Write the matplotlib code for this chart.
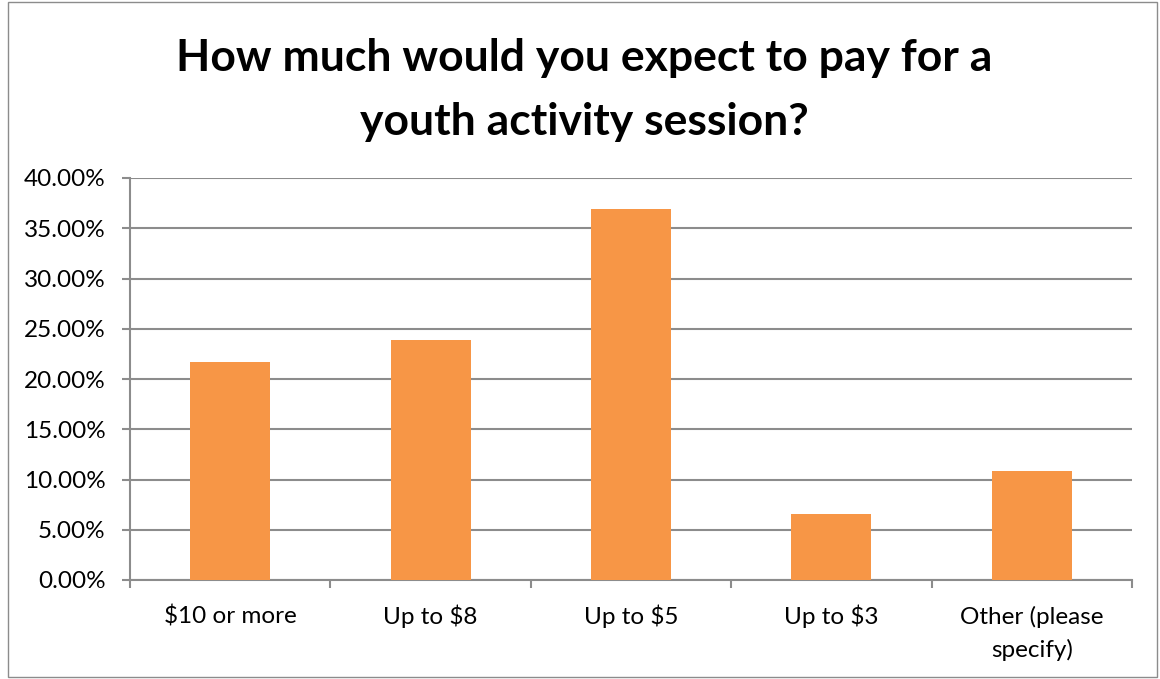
import matplotlib.pyplot as plt
import matplotlib.transforms as mtransforms
from matplotlib.patches import Rectangle
from matplotlib.ticker import FuncFormatter, MultipleLocator

# Data
categories = ["$10 or more", "Up to $8", "Up to $5", "Up to $3", "Other (please\nspecify)"]
shares = [21.74, 23.91, 36.96, 6.52, 10.87]
title_lines = ["How much would you expect to pay for a", "youth activity session?"]

plt.rcParams['font.family'] = ['Lato', 'DejaVu Sans']

W, H = 1160, 679
fig = plt.figure(figsize=(W / 100, H / 100), dpi=100)
ax = fig.add_axes([130 / W, 1 - 580 / H, (1132 - 130) / W, (580 - 178) / H])

grid_col = "#8c8c8c"
x = range(len(categories))
ax.bar(x, shares, width=0.4, color="#f79646", zorder=3)

ax.set_xlim(-0.5, len(categories) - 0.5)
ax.set_ylim(0, 40)
ax.yaxis.set_major_locator(MultipleLocator(5))
ax.yaxis.set_major_formatter(FuncFormatter(lambda v, p: f"{v:.2f}%"))
ax.grid(axis="y", color=grid_col, linewidth=1.5, zorder=0)

# category ticks at boundaries, labels drawn line by line on a shared baseline
ax.set_xticks([i + 0.5 for i in range(-1, len(categories))])
ax.set_xticklabels([])
ax.tick_params(axis="x", length=5.5, color=grid_col, width=1.5)
ax.tick_params(axis="y", length=5.5, color=grid_col, width=1.5, labelsize=17.5, pad=12)

base = ax.get_xaxis_transform()
for i, label in enumerate(categories):
    for j, line in enumerate(label.split("\n")):
        tr = mtransforms.offset_copy(base, fig=fig, x=0, y=-(44 + 33 * j), units="dots")
        ax.text(i, 0, line, transform=tr, ha="center", va="baseline", fontsize=17.5)

for s in ["top", "right"]:
    ax.spines[s].set_visible(False)
for s in ["left", "bottom"]:
    ax.spines[s].set_color(grid_col)
    ax.spines[s].set_linewidth(1.5)

fig.text(584 / W, 1 - 58 / H, title_lines[0], ha="center", va="center",
         fontsize=32, fontweight="bold")
fig.text(584 / W, 1 - 122 / H, title_lines[1], ha="center", va="center",
         fontsize=32, fontweight="bold")

fig.add_artist(Rectangle((8 / W, 2 / H), (1157 - 8) / W, (677 - 2) / H,
                         transform=fig.transFigure, fill=False,
                         edgecolor="#8c8c8c", linewidth=1))

fig.savefig("out.png", dpi=100, facecolor="white")
